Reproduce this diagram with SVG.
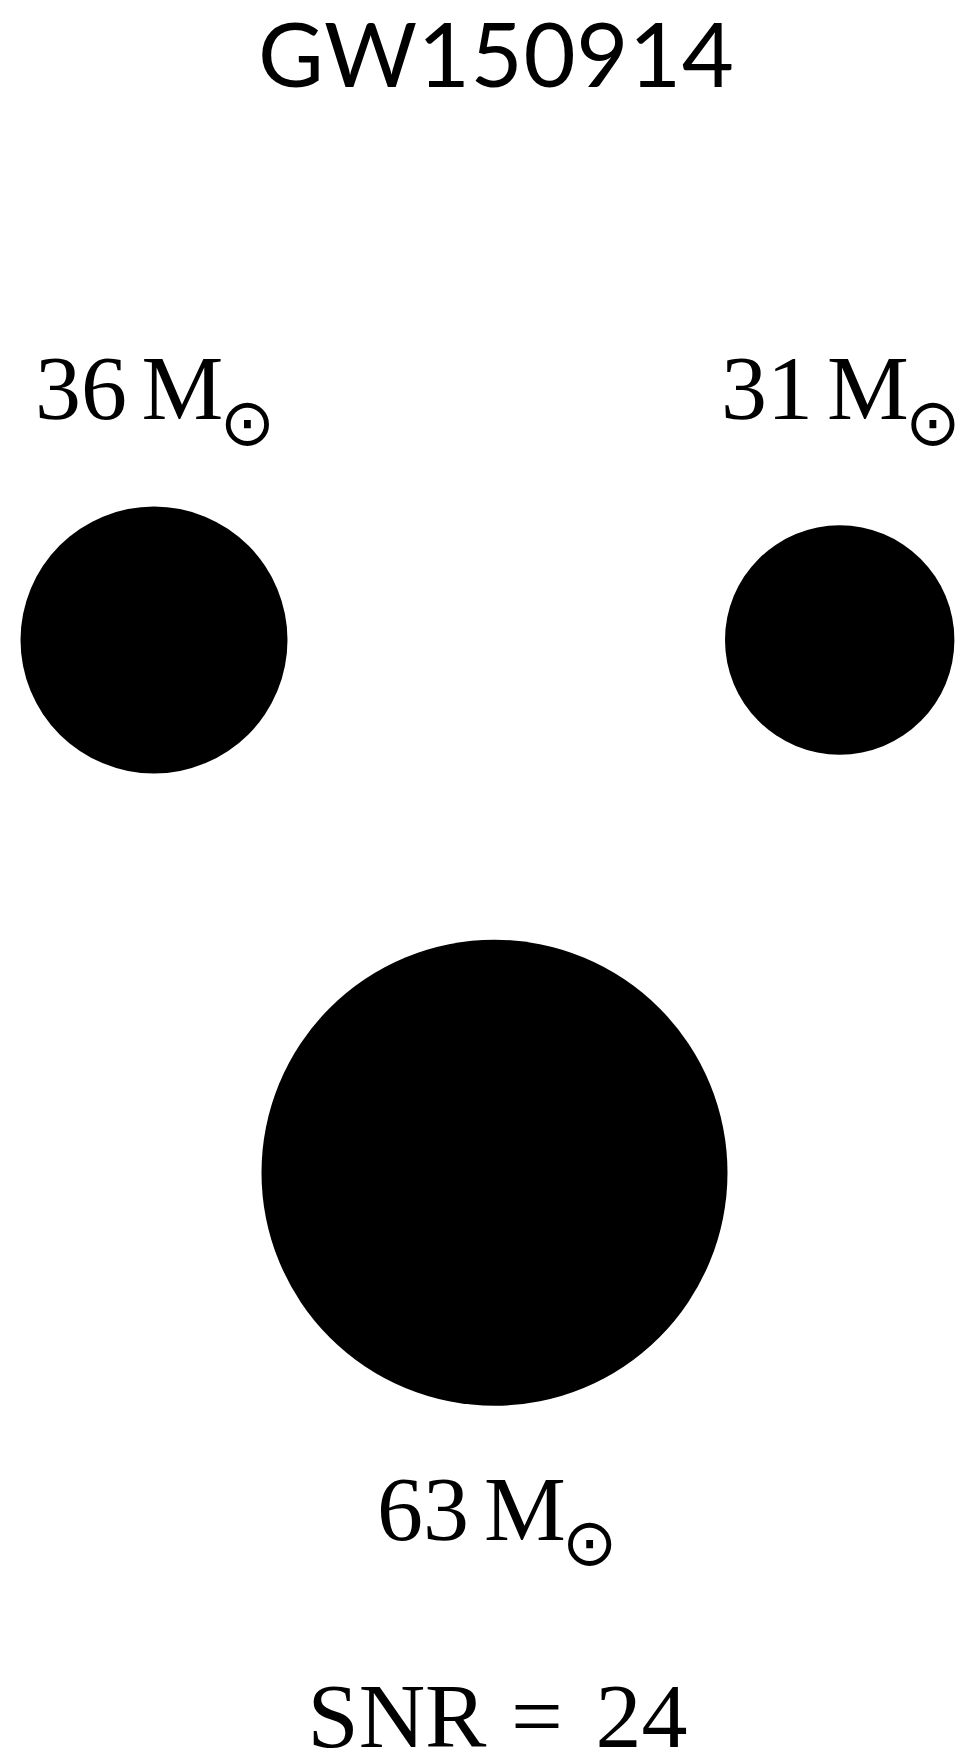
<svg xmlns="http://www.w3.org/2000/svg" width="964" height="1757" viewBox="0 0 964 1757">
<style>
.ttl{font-family:Lato,"Liberation Sans",sans-serif;font-weight:400;font-size:90px;fill:#000}
.lbl{font-family:"Liberation Serif","Times New Roman",serif;font-size:92px;fill:#000}
.sun{font-family:"DejaVu Sans",sans-serif;font-size:66px;fill:#000;text-anchor:middle}
.bh{fill:#000}
</style>
<rect width="964" height="1757" fill="#fff"/>
<g id="title"><text class="ttl" x="258" y="87" textLength="476" lengthAdjust="spacing">GW150914</text></g>
<g id="bh1">
<circle class="bh" cx="154" cy="640" r="133.5"/>
<text class="lbl" x="35" y="419">36</text><text class="lbl" x="141.5" y="419">M</text><text class="sun" x="247.5" y="445">⊙</text>
</g>
<g id="bh2">
<circle class="bh" cx="839.7" cy="640" r="114.7"/>
<text class="lbl" x="721" y="419">31</text><text class="lbl" x="827" y="419">M</text><text class="sun" x="933" y="445">⊙</text>
</g>
<g id="final">
<circle class="bh" cx="494.5" cy="1172.7" r="233"/>
<text class="lbl" x="377" y="1540">63</text><text class="lbl" x="484" y="1540">M</text><text class="sun" x="589.7" y="1565">⊙</text>
</g>
<g id="snr">
<text class="lbl" x="307.5" y="1747">SNR</text><text class="lbl" x="511" y="1747">=</text><text class="lbl" x="595.5" y="1747">24</text>
</g>
<g id="connectors"></g>
</svg>
